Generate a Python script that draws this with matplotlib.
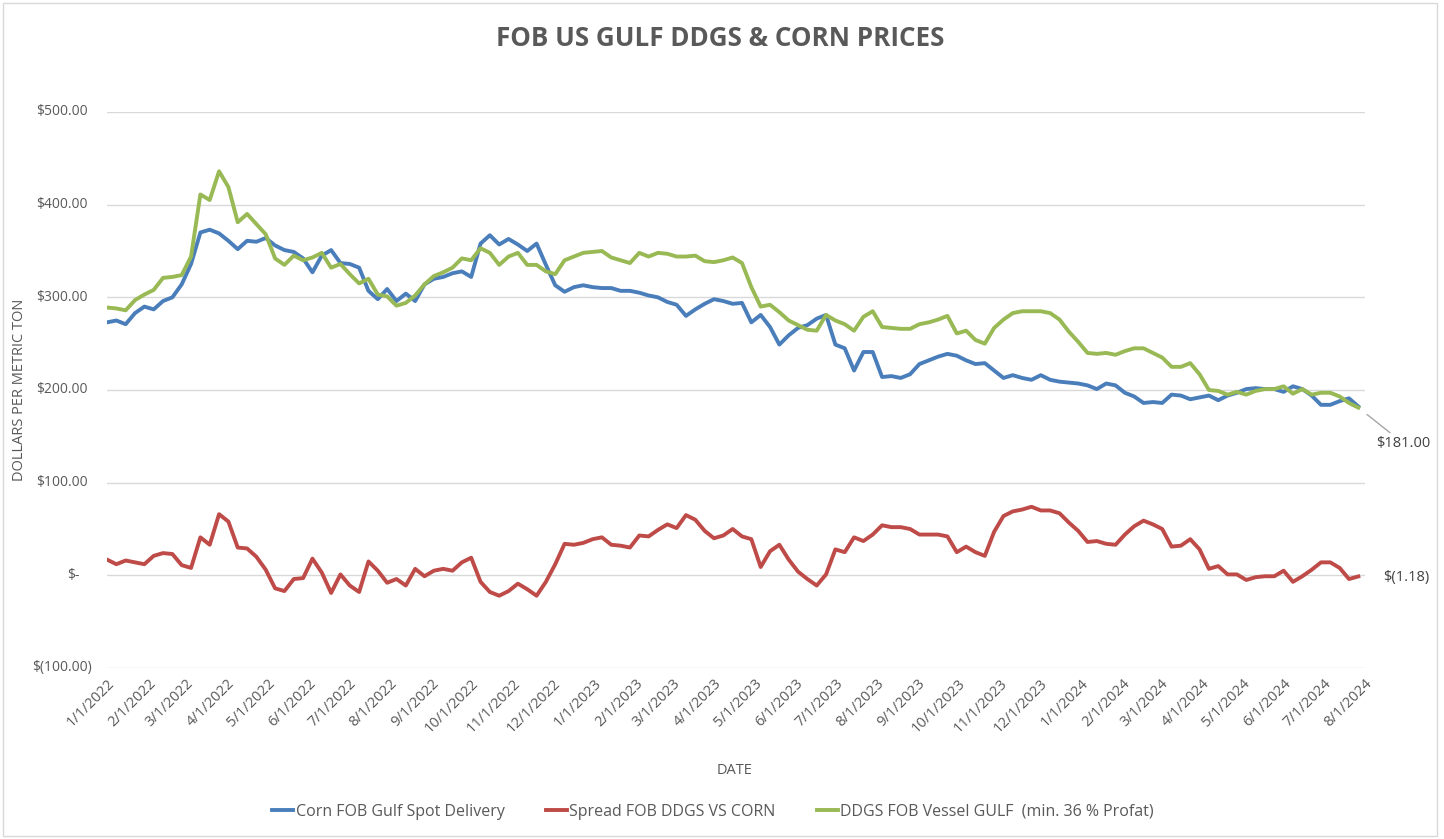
import matplotlib
matplotlib.use("Agg")
import matplotlib.pyplot as plt
import matplotlib.transforms as mtransforms
from matplotlib.patches import Rectangle
import pandas as pd

# ---------------- data (weekly) ----------------
start_date = "2022-01-01"
n_weeks = 135

corn = [273, 275, 271, 283, 290, 287, 296, 300, 314, 336,
        370, 373, 369, 361, 352, 361, 360, 364, 356, 351,
        349, 342, 327, 345, 351, 337, 336, 332, 307, 298,
        309, 296, 304, 296, 314, 320, 322, 326, 328, 322,
        358, 367, 357, 363, 357, 350, 358, 335, 313, 306,
        311, 313, 311, 310, 310, 307, 307, 305, 302, 300,
        295, 292, 280, 287, 293, 298, 296, 293, 294, 273,
        281, 268, 249, 259, 267, 270, 277, 281, 249, 245,
        221, 241, 241, 214, 215, 213, 217, 228, 232, 236,
        239, 237, 232, 228, 229, 221, 213, 216, 213, 211,
        216, 211, 209, 208, 207, 205, 201, 207, 205, 197,
        193, 186, 187, 186, 195, 194, 190, 192, 194, 189,
        194, 197, 201, 202, 201, 201, 198, 204, 201, 194,
        184, 184, 188, 191, 182.18]

ddgs = [289, 288, 286, 297, 303, 308, 321, 322, 324, 344,
        411, 405, 436, 419, 381, 390, 379, 368, 342, 335,
        345, 340, 343, 348, 332, 336, 325, 315, 320, 303,
        301, 291, 294, 302, 314, 323, 327, 332, 342, 340,
        353, 348, 335, 344, 348, 335, 335, 328, 325, 340,
        344, 348, 349, 350, 343, 340, 337, 348, 344, 348,
        347, 344, 344, 345, 339, 338, 340, 343, 337, 311,
        290, 292, 284, 275, 270, 265, 264, 281, 275, 271,
        264, 279, 285, 268, 267, 266, 266, 271, 273, 276,
        280, 261, 264, 254, 250, 267, 276, 283, 285, 285,
        285, 283, 276, 263, 252, 240, 239, 240, 238, 242,
        245, 245, 240, 235, 225, 225, 229, 217, 200, 199,
        195, 198, 195, 199, 201, 201, 204, 196, 201, 195,
        197, 197, 193, 186, 181]

spread = [17, 12, 16, 14, 12, 21, 24, 23, 11, 8,
          41, 33, 66, 58, 30, 29, 20, 6, -14, -17,
          -4, -3, 18, 3, -19, 1, -11, -18, 15, 5,
          -8, -4, -11, 7, -1, 5, 7, 5, 14, 19,
          -7, -18, -22, -17, -9, -15, -22, -7, 12, 34,
          33, 35, 39, 41, 33, 32, 30, 43, 42, 49,
          55, 51, 65, 60, 48, 40, 43, 50, 42, 39,
          9, 26, 33, 17, 4, -4, -11, 1, 28, 25,
          41, 37, 44, 54, 52, 52, 50, 44, 44, 44,
          42, 25, 31, 25, 21, 47, 64, 69, 71, 74,
          70, 70, 67, 57, 48, 36, 37, 34, 33, 44,
          53, 59, 55, 50, 31, 32, 39, 28, 7, 10,
          1, 1, -5, -2, -1, -1, 5, -7, -1, 6,
          14, 14, 8, -4, -1.18]

series_names = ["Corn FOB Gulf Spot Delivery",
                "Spread FOB DDGS VS CORN",
                "DDGS FOB Vessel GULF  (min. 36 % Profat)"]
y_ticks = [-100, 0, 100, 200, 300, 400, 500]
y_tick_labels = ["$(100.00)", "$-", "$100.00", "$200.00", "$300.00", "$400.00", "$500.00"]
x_start, x_end = "2022-01-01", "2024-08-01"

# ---------------- styling ----------------
plt.rcParams["font.family"] = ["Open Sans", "DejaVu Sans"]
TXT = "#595959"
BLUE, RED, GREEN = "#4A7EBB", "#BE4B48", "#98B954"

dates = pd.date_range(start_date, periods=n_weeks, freq="7D")

fig = plt.figure(figsize=(14.44, 8.39), dpi=100)
ax = fig.add_axes([107/1444, 1-668/839, (1365-107)/1444, (668-112)/839])

lw = 2.8
ax.plot(dates, corn, color=BLUE, lw=lw, label=series_names[0], solid_joinstyle="round")
ax.plot(dates, spread, color=RED, lw=lw, label=series_names[1], solid_joinstyle="round")
ax.plot(dates, ddgs, color=GREEN, lw=lw, label=series_names[2], solid_joinstyle="round")

ax.set_ylim(-100, 500)
ax.set_xlim(pd.Timestamp(x_start), pd.Timestamp(x_end))
ax.set_yticks(y_ticks)
ax.set_yticklabels([])

# accounting-style y labels (Excel-like alignment)
ylab_tr = mtransforms.blended_transform_factory(fig.transFigure, ax.transData)
for val, lab in zip(y_ticks, y_tick_labels):
    if lab.startswith("$("):
        xr = 92
    elif lab == "$-":
        xr = 80
    else:
        xr = 88
    ax.text(xr/1444, val, lab, transform=ylab_tr, ha="right", va="center",
            fontsize=10, color=TXT)

month_ticks = pd.date_range(x_start, x_end, freq="MS")
ax.set_xticks(month_ticks)
ax.set_xticklabels([f"{d.month}/{d.day}/{d.year}" for d in month_ticks],
                   rotation=45, ha="right", va="top", rotation_mode="anchor")

ax.grid(axis="y", color="#D9D9D9", lw=1)
ax.set_axisbelow(True)
for s in ax.spines.values():
    s.set_visible(False)
ax.tick_params(axis="both", length=0, colors=TXT, labelsize=10.5)
ax.tick_params(axis="x", pad=6)

ax.set_ylabel("DOLLARS PER METRIC TON", color=TXT, fontsize=10.5)
ax.yaxis.set_label_coords(-0.0635, 0.5)
ax.set_xlabel("DATE", color=TXT, fontsize=10.5)
ax.xaxis.set_label_coords(0.499, -0.17)

fig.text(720/1444, 1-38/839, "FOB US GULF DDGS & CORN PRICES", ha="center", va="center",
         fontsize=18.7, fontweight="bold", color=TXT)

# end-value labels
ax.annotate(f"${ddgs[-1]:.2f}", xy=(dates[-1], ddgs[-1]), xytext=(1403/1444, 1-443/839),
            textcoords="figure fraction", ha="center", va="center", color="#404040",
            fontsize=10.5, annotation_clip=False,
            arrowprops=dict(arrowstyle="-", color="#A6A6A6", lw=1, shrinkB=8, shrinkA=0))
ax.annotate(f"$({abs(spread[-1]):.2f})", xy=(dates[-1], spread[-1]), xytext=(1406/1444, 1-578/839),
            textcoords="figure fraction", ha="center", va="center", color="#404040",
            fontsize=10.5, annotation_clip=False)

leg = fig.legend(loc="center", bbox_to_anchor=(713/1444, 1-812/839), ncol=3, frameon=False,
                 fontsize=11.5, handlelength=1.3, handletextpad=0.15, columnspacing=2.6)
for t in leg.get_texts():
    t.set_color(TXT)

fig.patches.append(Rectangle((3/1444, 3/839), 1434/1444, 833/839, transform=fig.transFigure,
                             fill=False, edgecolor="#D9D9D9", lw=1))

fig.savefig("out.png", dpi=100, facecolor="white")
